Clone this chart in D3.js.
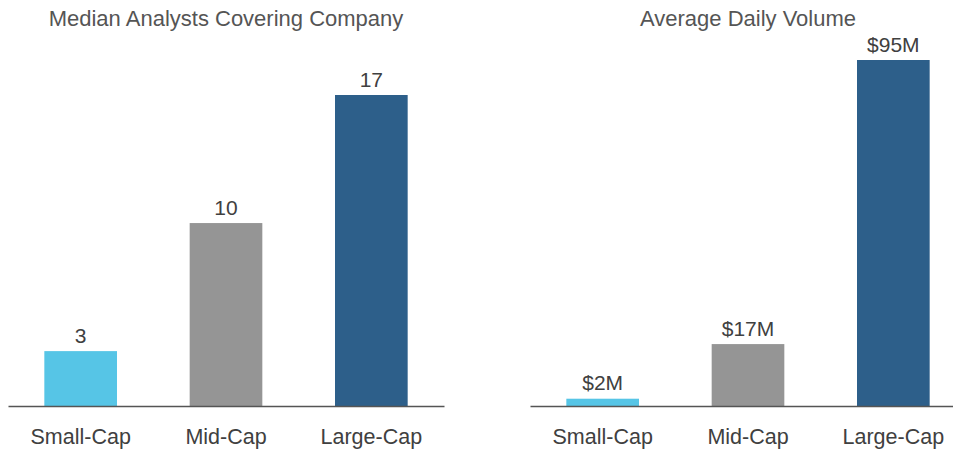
<!DOCTYPE html>
<html><head><meta charset="utf-8">
<script src="https://cdn.jsdelivr.net/npm/d3@7/dist/d3.min.js"></script>
<style>body{margin:0;background:#fff}svg{display:block}</style>
</head><body><svg id="c" width="953" height="450"></svg>
<script>
const categories = ["Small-Cap", "Mid-Cap", "Large-Cap"];
const analystsValues = [3, 10, 17];
const volumeValues = [2, 17, 95];
const volumeLabels = ["$2M", "$17M", "$95M"];
const analystsLabels = ["3", "10", "17"];
const colors = ["#56c5e6", "#959595", "#2d5f8a"];
const titles = ["Median Analysts Covering Company", "Average Daily Volume"];

const svg = d3.select("#c");
const font = "'Liberation Sans', Arial, sans-serif";
const baseY = 406;

function panel(x0, x1, values, labels, title, topPx, maxVal) {
  const g = svg.append("g");
  const x = d3.scaleBand().domain(categories).range([x0, x1]).paddingInner(0.5).paddingOuter(0.25);
  const y = d3.scaleLinear().domain([0, maxVal]).range([baseY, topPx]);
  g.selectAll("rect").data(values).join("rect")
    .attr("x", (d, i) => x(categories[i]))
    .attr("width", x.bandwidth())
    .attr("y", d => y(d))
    .attr("height", d => baseY - y(d))
    .attr("fill", (d, i) => colors[i]);
  g.selectAll("text.v").data(values).join("text").attr("class", "v")
    .attr("x", (d, i) => x(categories[i]) + x.bandwidth() / 2)
    .attr("y", d => y(d) - 8.5)
    .attr("text-anchor", "middle")
    .attr("font-family", font).attr("font-size", 21).attr("fill", "#404040")
    .text((d, i) => labels[i]);
  const ax = g.append("g").attr("transform", `translate(0,${baseY})`)
    .call(d3.axisBottom(x).tickSize(0).tickPadding(23));
  ax.select(".domain").attr("stroke", "#555").attr("stroke-width", 1.5);
  ax.selectAll("text").attr("font-family", font).attr("font-size", 21.5).attr("fill", "#404040");
  g.append("text").attr("x", (x0 + x1) / 2).attr("y", 26)
    .attr("text-anchor", "middle").attr("font-family", font).attr("font-size", 22)
    .attr("fill", "#555").text(title);
}

panel(8, 444, analystsValues, analystsLabels, titles[0], 95, 17);
panel(530, 966, volumeValues, volumeLabels, titles[1], 60, 95);
</script></body></html>
